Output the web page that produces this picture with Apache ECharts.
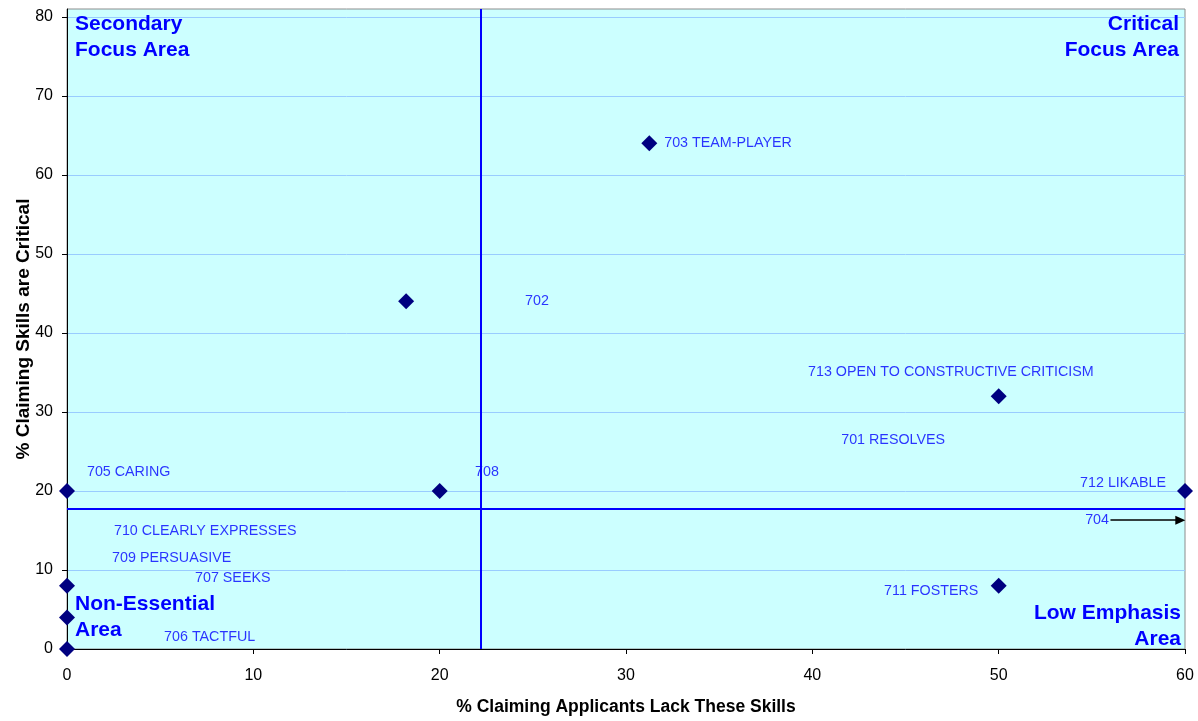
<!DOCTYPE html>
<html>
<head>
<meta charset="utf-8">
<script src="https://cdn.jsdelivr.net/npm/echarts@6/dist/echarts.min.js"></script>
<style>
html,body{margin:0;padding:0;background:#fff;}
#chart{width:1198px;height:721px;}
</style>
</head>
<body>
<div id="chart"></div>
<script>
// ---- data ----
const pointX = [0, 0, 0, 0, 18.2, 20, 31.25, 50, 50, 60];
const pointY = [0, 4, 8, 20, 44, 20, 64, 32, 8, 20];

const labelTexts = ['703 TEAM-PLAYER', '702', '713 OPEN TO CONSTRUCTIVE CRITICISM', '701 RESOLVES',
  '705 CARING', '708', '712 LIKABLE', '710 CLEARLY EXPRESSES', '704', '709 PERSUASIVE',
  '707 SEEKS', '711 FOSTERS', '706 TACTFUL'];
const labelX = [32.05, 24.58, 39.77, 41.55, 1.07, 21.9, 54.37, 2.52, 54.64, 2.42, 6.87, 43.85, 5.21];
const labelY = [64, 44, 35.1, 26.5, 22.4, 22.4, 21.0, 14.9, 16.3, 11.5, 9.0, 7.3, 1.5];

const arrowFrom = [56.0, 16.3];
const arrowTo = [59.75, 16.3];

const avgX = 22.2;
const avgY = 17.7;

const xTicks = [0, 10, 20, 30, 40, 50, 60];
const yTicks = [0, 10, 20, 30, 40, 50, 60, 70, 80];

const xTitle = '% Claiming Applicants Lack These Skills';
const yTitle = '% Claiming Skills are Critical';
const quadTexts = ['Secondary\nFocus Area', 'Critical\nFocus Area', 'Non-Essential\nArea', 'Low Emphasis\nArea'];

// ---- chart ----
const chart = echarts.init(document.getElementById('chart'), null, {renderer: 'canvas'});
const FONT = '"Liberation Sans", Arial, sans-serif';
const quadStyle = {fill: '#0000FF', font: 'bold 21px "Liberation Sans", Arial, sans-serif', lineHeight: 26, verticalAlign: 'top'};

const option = {
  backgroundColor: '#ffffff',
  animation: false,
  grid: {left: 67, right: 13, top: 9, bottom: 72, containLabel: false, outerBoundsMode: 'none',
    show: true, backgroundColor: '#CCFFFF', borderColor: '#8c8c8c', borderWidth: 1},
  xAxis: {
    type: 'value', min: 0, max: 60, interval: 10,
    axisLine: {show: true, onZero: false, lineStyle: {color: '#000', width: 1}},
    axisTick: {show: true, inside: false, length: 5, lineStyle: {color: '#000'}, customValues: xTicks},
    axisLabel: {color: '#000', fontSize: 16, fontFamily: FONT, margin: 19, customValues: xTicks},
    splitLine: {show: false},
    name: xTitle, nameLocation: 'middle', nameGap: 49, nameMoveOverlap: false,
    nameTextStyle: {color: '#000', fontSize: 17.5, fontWeight: 'bold', fontFamily: FONT}
  },
  yAxis: {
    type: 'value', min: 0, max: 81, interval: 10,
    axisLine: {show: true, onZero: false, lineStyle: {color: '#000', width: 1}},
    axisTick: {show: true, inside: false, length: 5, lineStyle: {color: '#000'}, customValues: yTicks},
    axisLabel: {color: '#000', fontSize: 16, fontFamily: FONT, margin: 14, customValues: yTicks},
    splitLine: {show: true, lineStyle: {color: '#99CCFF', width: 1}},
    name: yTitle, nameLocation: 'middle', nameGap: 34, nameMoveOverlap: false,
    nameTextStyle: {color: '#000', fontSize: 19, fontWeight: 'bold', fontFamily: FONT}
  },
  series: [
    {
      type: 'scatter', clip: false, z: 5,
      symbol: 'diamond', symbolSize: 16,
      itemStyle: {color: '#000080', opacity: 1},
      data: pointX.map((x, i) => [x, pointY[i]]),
      markLine: {
        silent: true, symbol: ['none', 'none'], animation: false,
        label: {show: false},
        lineStyle: {color: '#0000FF', width: 2, type: 'solid'},
        data: [{xAxis: avgX}, {yAxis: avgY}]
      }
    },
    {
      type: 'scatter', clip: false, z: 4,
      symbol: 'circle', symbolSize: 1,
      itemStyle: {color: 'rgba(0,0,0,0)'},
      label: {
        show: true, position: 'inside', align: 'left', verticalAlign: 'middle',
        color: '#0000FF', fontSize: 14.3, fontFamily: FONT,
        formatter: p => labelTexts[p.dataIndex]
      },
      data: labelX.map((x, i) => [x, labelY[i]]),
      markLine: {
        silent: true, symbol: ['none', 'triangle'], symbolSize: [9, 10], animation: false,
        label: {show: false},
        lineStyle: {color: '#000', width: 1.5, type: 'solid'},
        data: [[{coord: arrowFrom}, {coord: arrowTo}]]
      }
    }
  ],
  graphic: [
    {type: 'text', x: 75, y: 11, style: Object.assign({text: quadTexts[0], align: 'left'}, quadStyle), z: 10},
    {type: 'text', x: 1179, y: 11, style: Object.assign({text: quadTexts[1], align: 'right'}, quadStyle), z: 10},
    {type: 'text', x: 75, y: 591, style: Object.assign({text: quadTexts[2], align: 'left'}, quadStyle), z: 10},
    {type: 'text', x: 1181, y: 600, style: Object.assign({text: quadTexts[3], align: 'right'}, quadStyle), z: 10}
  ]
};
chart.setOption(option);
</script>
</body>
</html>
